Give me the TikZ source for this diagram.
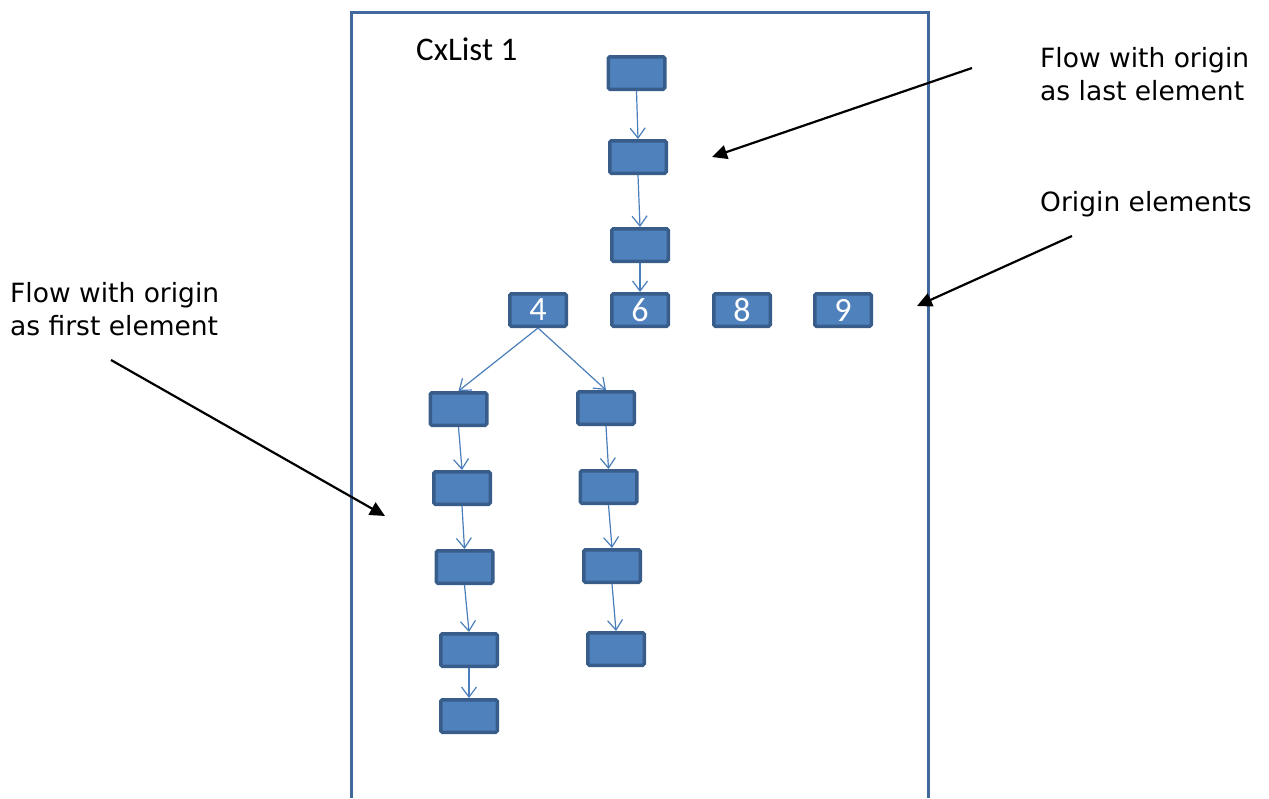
\documentclass[tikz,border=0pt]{standalone}
\usepackage{fontspec}
\setmainfont{DejaVu Sans}
\newfontfamily\calibri{Carlito}
\usetikzlibrary{arrows.meta}

\definecolor{boxfill}{HTML}{4F81BD}
\definecolor{boxline}{HTML}{385D8A}
\definecolor{flowline}{HTML}{4A7EBB}
\definecolor{frameline}{HTML}{41699E}

\tikzstyle{element}=[draw=boxline, fill=boxfill, line width=3.5pt, rounded corners=1.5pt, minimum width=56.5pt, minimum height=32.5pt, inner sep=0pt, text=white, font=\calibri\fontsize{34}{34}\selectfont]
\tikzstyle{flow}=[draw=flowline, line width=1.2pt, -{Straight Barb[length=10pt,width=15pt]}]
\tikzstyle{pointer}=[draw, line width=2.2pt, -{Triangle[length=15pt,width=14pt]}]
\tikzstyle{note}=[align=left, inner sep=0pt, anchor=north west, font=\fontsize{26.5}{33.5}\selectfont]

\begin{document}
\begin{tikzpicture}[x=1pt, y=-1pt]
	\useasboundingbox (0,0) rectangle (1269,798);
	\draw[frameline, line width=3pt] (351,798) -- (351,12) -- (928,12) -- (928,798);
	\node[anchor=base west, inner sep=0pt, font=\calibri\fontsize{33}{33}\selectfont] (title) at (416,60) {CxList 1};
	\foreach \pos/\name/\num in {{(538,310)/four/4}, {(640,310)/six/6}, {(742,310)/eight/8}, {(843,310)/nine/9}}
		\node[element] (\name) at \pos {\num};
	\foreach \pos/\name in {{(636.5,73)/topA}, {(638,157)/topB}, {(640,245)/topC},
				{(458.5,409)/leftA}, {(462,488)/leftB}, {(464.5,567)/leftC}, {(469,650)/leftD}, {(469,716)/leftE},
				{(606,408)/rightA}, {(608.5,487)/rightB}, {(612,566)/rightC}, {(616,649)/rightD}}
		\node[element] (\name) at \pos {};
	\foreach \source/\dest in {topA/topB, topB/topC, topC/six, four/leftA, four/rightA,
				   leftA/leftB, leftB/leftC, leftC/leftD, leftD/leftE,
				   rightA/rightB, rightB/rightC, rightC/rightD}
		\path[flow] (\source.south) -- (\dest.north);
	\node[note] (lastnote) at (1040,47) {Flow with origin\\as last element};
	\node[note] (originnote) at (1040,191) {Origin elements};
	\node[note] (firstnote) at (10,282) {Flow with origin\\as first element};
	\coordinate (lastfrom) at (972,68);
	\coordinate (lastto) at (712,157);
	\coordinate (originfrom) at (1072,236);
	\coordinate (originto) at (917,306);
	\coordinate (firstfrom) at (111,360);
	\coordinate (firstto) at (385,516);
	\foreach \source/\dest in {lastfrom/lastto, originfrom/originto, firstfrom/firstto}
		\path[pointer] (\source) -- (\dest);
\end{tikzpicture}
\end{document}
